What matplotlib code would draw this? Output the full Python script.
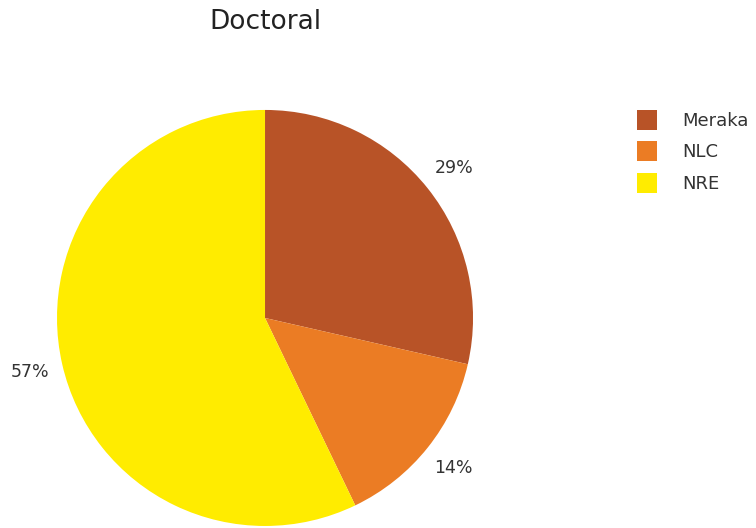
import matplotlib
matplotlib.use("Agg")
import matplotlib.pyplot as plt
from matplotlib.patches import Patch

plt.rcParams['font.family'] = ['DejaVu Sans']

labels = ['Meraka', 'NLC', 'NRE']
counts = [2, 1, 4]
colors = ['#B85327', '#EB7C24', '#FFEC00']
title = 'Doctoral'

fig = plt.figure(figsize=(7.56, 5.28), dpi=100)
ax = fig.add_axes([0.0754, 0.0038, 0.5503, 0.788])

wedges, texts, autotexts = ax.pie(counts, colors=colors, startangle=90, counterclock=False,
                                  autopct='%1.0f%%', pctdistance=1.16, radius=1,
                                  textprops={'fontsize': 12.5, 'color': '#333333'})
ax.set_xlim(-1, 1)
ax.set_ylim(-1, 1)
ax.set_aspect('equal')

fig.text(0.3505, 0.958, title, ha='center', va='center', fontsize=19, color='#222222')

handles = [Patch(facecolor=c, label=l) for c, l in zip(colors, labels)]
fig.legend(handles=handles, loc='upper left', bbox_to_anchor=(0.8426, 0.792),
           frameon=False, fontsize=13, handlelength=1.1, handleheight=1.3,
           handletextpad=1.4, labelspacing=0.65, borderaxespad=0, borderpad=0,
           labelcolor='#333333')

fig.savefig('out.png', dpi=100)
